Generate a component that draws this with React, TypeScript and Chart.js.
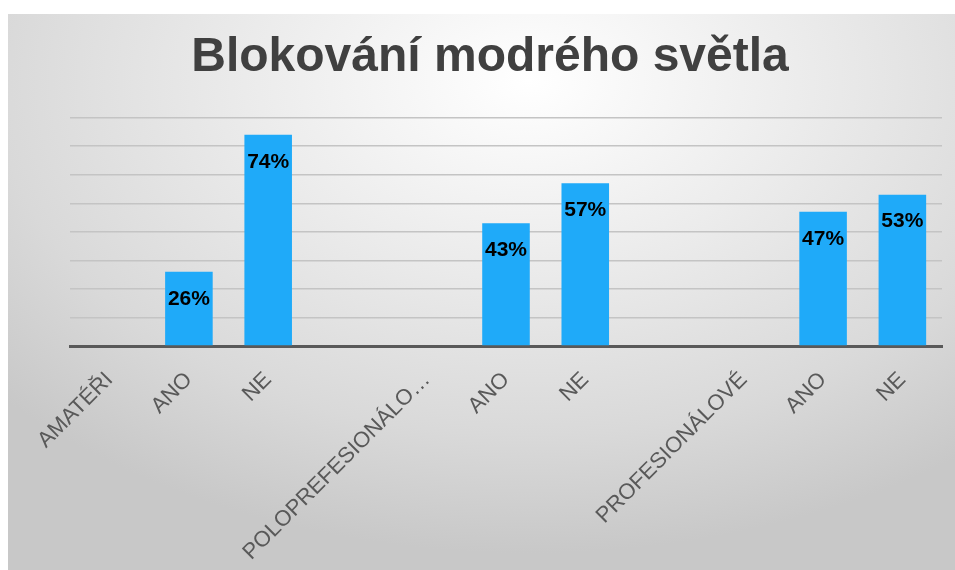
import React, { useEffect, useRef } from "react";
import { Chart, registerables } from "chart.js";

Chart.register(...registerables);

const titleText = "Blokování modrého světla";
const categories = ["AMATÉŘI", "ANO", "NE", "", "POLOPREFESIONÁLO…", "ANO", "NE", "", "PROFESIONÁLOVÉ", "ANO", "NE"];
const values: (number | null)[] = [null, 26, 74, null, null, 43, 57, null, null, 47, 53];
const yMin = 0;
const yMax = 80;
const yStep = 10;

const barLabels = {
  id: "barLabels",
  afterDatasetsDraw(chart: any) {
    const ctx = chart.ctx;
    const meta = chart.getDatasetMeta(0);
    ctx.save();
    ctx.font = "bold 21px 'Liberation Sans', Arial, sans-serif";
    ctx.fillStyle = "#000000";
    ctx.textAlign = "center";
    ctx.textBaseline = "middle";
    meta.data.forEach((el: any, i: number) => {
      const v = values[i];
      if (v === null || v === undefined) return;
      ctx.fillText(v + "%", el.x, el.y + 27);
    });
    ctx.restore();
  },
};

export default function App() {
  const ref = useRef<HTMLCanvasElement | null>(null);
  useEffect(() => {
    if (!ref.current) return;
    const chart = new Chart(ref.current, {
      type: "bar",
      data: {
        labels: categories,
        datasets: [
          {
            data: values,
            backgroundColor: "#1faaf9",
            borderWidth: 0,
            barPercentage: 0.6,
            categoryPercentage: 1,
          },
        ],
      },
      options: {
        animation: false,
        responsive: true,
        maintainAspectRatio: false,
        layout: { padding: { left: 30, right: 13, top: 0, bottom: 0 } },
        plugins: {
          legend: { display: false },
          tooltip: { enabled: false },
          title: {
            display: true,
            text: titleText,
            color: "#404040",
            font: { family: "'Liberation Sans', Arial, sans-serif", size: 48, weight: "bold" },
            padding: { top: 15, bottom: 31 },
          },
        },
        scales: {
          x: {
            grid: { display: false, drawTicks: false },
            border: { display: true, color: "#595959", width: 3 },
            ticks: {
              maxRotation: 45,
              minRotation: 45,
              autoSkip: false,
              padding: 21,
              color: "#595959",
              font: { family: "'Liberation Sans', Arial, sans-serif", size: 22 },
            },
            afterFit: (s: any) => {
              s.height = 224;
            },
          },
          y: {
            min: yMin,
            max: yMax,
            ticks: { display: false, stepSize: yStep },
            grid: { color: "#c4c4c4", lineWidth: 1.5, drawTicks: false },
            border: { display: false },
            afterFit: (s: any) => {
              s.width = 32;
            },
          },
        },
      },
      plugins: [barLabels],
    });
    return () => chart.destroy();
  }, []);
  return (
    <div
      style={{
        position: "absolute",
        left: 8,
        top: 14,
        width: 947,
        height: 556,
        background:
          "radial-gradient(ellipse 75% 85% at 55% 12%, #ffffff 0%, #ebebeb 40%, #d9d9d9 75%, #c8c8c8 100%)",
      }}
    >
      <canvas ref={ref} />
    </div>
  );
}
